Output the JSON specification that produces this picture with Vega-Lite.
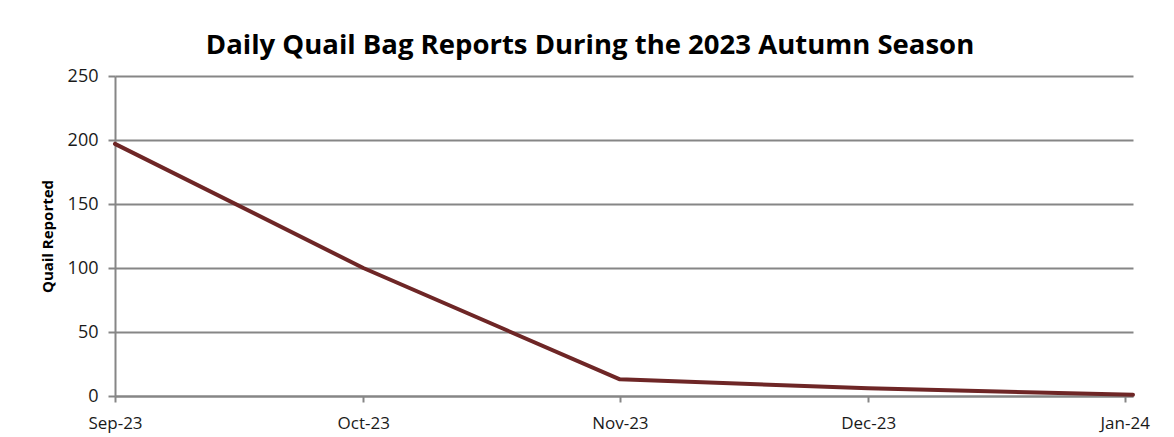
{
  "$schema": "https://vega.github.io/schema/vega-lite/v6.json",
  "width": 1018,
  "height": 320,
  "autosize": "none",
  "padding": {"left": 115, "top": 76, "right": 41, "bottom": 41},
  "background": "white",
  "title": {
    "text": "Daily Quail Bag Reports During the 2023 Autumn Season",
    "font": "Open Sans",
    "fontSize": 27.5,
    "fontWeight": "bold",
    "color": "#000000",
    "anchor": "middle",
    "frame": "group",
    "dx": -34,
    "offset": 8
  },
  "data": {
    "values": [
      {"date": "2023-09-01", "quail": 197},
      {"date": "2023-10-01", "quail": 100},
      {"date": "2023-11-01", "quail": 13},
      {"date": "2023-12-01", "quail": 6},
      {"date": "2024-01-02", "quail": 1}
    ]
  },
  "mark": {"type": "line", "color": "#6e2626", "strokeWidth": 4, "strokeCap": "round", "strokeJoin": "round"},
  "encoding": {
    "x": {
      "field": "date",
      "type": "temporal",
      "scale": {
        "type": "utc",
        "domain": [
          {"year": 2023, "month": 9, "date": 1, "utc": true},
          {"year": 2024, "month": 1, "date": 2, "utc": true}
        ],
        "nice": false
      },
      "axis": {
        "title": null,
        "format": "%b-%y",
        "tickCount": {"interval": "month", "step": 1},
        "grid": false,
        "domainColor": "#868686",
        "domainWidth": 2,
        "tickColor": "#868686",
        "tickWidth": 2,
        "tickSize": 6,
        "labelFont": "Open Sans",
        "labelFontSize": 17,
        "labelColor": "#1a1a1a",
        "labelPadding": 13,
        "labelFlush": false,
        "labelOverlap": false
      }
    },
    "y": {
      "field": "quail",
      "type": "quantitative",
      "scale": {"domain": [0, 250], "nice": false},
      "axis": {
        "title": "Quail Reported",
        "titleFont": "Open Sans",
        "titleFontSize": 15,
        "titleFontWeight": "bold",
        "titleColor": "#000000",
        "titlePadding": 12,
        "values": [0, 50, 100, 150, 200, 250],
        "grid": true,
        "gridColor": "#868686",
        "gridWidth": 2,
        "domainColor": "#868686",
        "domainWidth": 2,
        "tickColor": "#868686",
        "tickWidth": 2,
        "tickSize": 7,
        "labelFont": "Open Sans",
        "labelFontSize": 18,
        "labelColor": "#1a1a1a",
        "labelPadding": 10
      }
    }
  },
  "config": {
    "view": {"stroke": null}
  }
}
